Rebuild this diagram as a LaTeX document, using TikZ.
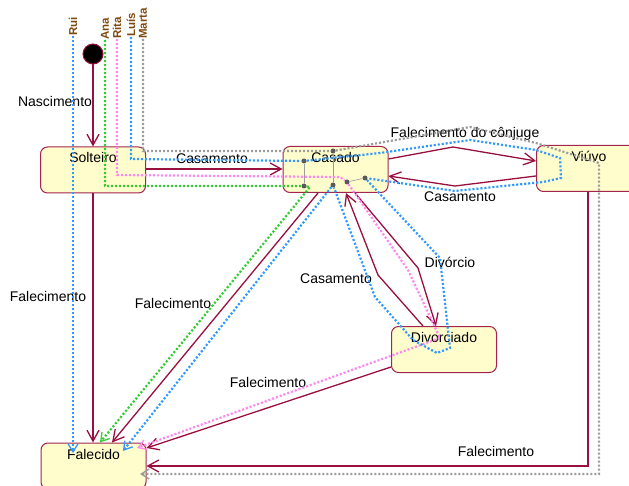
\documentclass[tikz,border=0pt]{standalone}
\usepackage{fontspec}
\setmainfont{Liberation Sans}
\usetikzlibrary{arrows.meta}

\definecolor{transc}{HTML}{990F3D}
\definecolor{stateborder}{HTML}{A3244F}
\definecolor{statefill}{HTML}{FFFDCC}
\definecolor{pblue}{HTML}{3399FF}
\definecolor{pgreen}{HTML}{33CC33}
\definecolor{ppink}{HTML}{FF88F0}
\definecolor{pgray}{HTML}{9C9C9C}
\definecolor{pname}{HTML}{7F4A10}
\definecolor{dotc}{HTML}{5A5A5A}

\begin{document}
\begin{tikzpicture}[x=1pt,y=-1pt,
  font=\fontsize{14}{16}\selectfont,
  state/.style={draw=stateborder, fill=statefill, line width=1pt,
    rounded corners=7pt, minimum width=105pt, minimum height=46pt,
    inner sep=0pt, text height=16pt, text depth=30pt},
  initial/.style={circle, fill=black, draw=transc, line width=1pt,
    minimum size=20pt, inner sep=0pt},
  trans/.style={draw=transc, line width=1.3pt,
    -{Straight Barb[length=11pt,width=12pt]}},
  tlabel/.style={inner sep=0pt, text=black},
  person/.style={line width=2.2pt, dash pattern=on 2.1pt off 1.9pt,
    -{Straight Barb[length=8pt,width=10pt,line width=1.3pt]}},
  pathblue/.style={person, draw=pblue},
  pathgreen/.style={person, draw=pgreen},
  pathpink/.style={person, draw=ppink},
  pathgray/.style={person, draw=pgray},
  pname/.style={rotate=90, anchor=west, text=pname, inner sep=0pt,
    font=\fontsize{11.5}{13}\selectfont\bfseries},
  jdot/.style={circle, fill=dotc, minimum size=5pt, inner sep=0pt},
  jline/.style={draw=pgray, line width=0.6pt}
]
\useasboundingbox (0,0) rectangle (629,486);

% states
\node[initial] (init) at (93,54) {};
\node[state] (solteiro)   at (93,170)    {Solteiro};
\node[state] (casado)     at (335.5,169.5) {Casado};
\node[state] (viuvo)      at (589,168.5) {Viúvo};
\node[state] (divorciado) at (444,349.5) {Divorciado};
\node[state] (falecido)   at (93.5,466)  {Falecido};

% people
\node[pname] (rui)   at (73,36)  {Rui};
\node[pname] (ana)   at (105,40) {Ana};
\node[pname] (rita)  at (117,39) {Rita};
\node[pname] (luis)  at (131,37) {Luís};
\node[pname] (marta) at (143,39) {Marta};

% transitions
\draw[trans] (init) -- (solteiro.north);
\node[tlabel] at (55,101) {Nascimento};

\draw[trans] (solteiro.east |- 0,169) -- (casado.west |- 0,169);
\node[tlabel] at (212,159) {Casamento};

\draw[trans] (solteiro.south) -- (solteiro.south |- falecido.north);
\node[tlabel] at (48,296) {Falecimento};

\draw[trans] (casado.east |- 0,159) -- (453,147) -- (viuvo.west |- 0,161);
\node[tlabel] at (465,134) {Falecimento do cônjuge};

\draw[trans] (viuvo.west |- 0,176) -- (455,186) -- (casado.east |- 0,176);
\node[tlabel] at (460,197) {Casamento};

\draw[trans] (casado.south -| 355,0) -- (418,268) -- (divorciado.north -| 436,0);
\node[tlabel] at (450,262) {Divórcio};

\draw[trans] (divorciado.north -| 423,0) -- (378,275) -- (casado.south -| 346,0);
\node[tlabel] at (336,279) {Casamento};

\draw[trans] (casado.south -| 318,0) -- (falecido.north -| 112,0);
\node[tlabel] at (173,303) {Falecimento};

\draw[trans] (divorciado.west |- 0,367) -- (falecido.east |- 0,448);
\node[tlabel] at (268,382) {Falecimento};

\draw[trans] (viuvo.south -| 588,0) |- (falecido.east |- 0,466);
\node[tlabel] at (496,451) {Falecimento};

% junction points inside Casado
\node[jdot] (c1) at (304,161) {};
\node[jdot] (c2) at (333,151) {};
\node[jdot] (c3) at (304,186) {};
\node[jdot] (c4) at (333,185) {};
\node[jdot] (c5) at (347,182) {};
\node[jdot] (c6) at (365,178) {};
\draw[jline] (c1) -- (c3);
\draw[jline] (c2) -- (c4);
\draw[jline] (c5) -- (c6);

% life paths
\draw[pathblue] (rui.west) -- (rui.west |- 0,453);

\draw[pathgreen] (ana.west) |- (c3) -- (310,187) -- (falecido.north -| 100,0);

\draw[pathpink] (rita.west) -- (117,175) -- (340,177) -- (c5) -- (408,270)
  -- (440,338) -- (137,448);

\draw[pathblue] (luis.west) -- (131,159) -- (c1) -- (380,153) -- (470,140)
  -- (536,150) -- (560,158) -- (561,178) -- (543,182) -- (455,191) -- (c6)
  -- (440,258) -- (450,348) -- (437,353) -- (413,340) -- (375,297) -- (c4)
  -- (123,451);

\draw[pathgray] (marta.west) -- (143,151) -- (c2) -- (470,127) -- (536,143)
  -- (599,163) -- (599,474) -- (140,474);
\end{tikzpicture}
\end{document}
